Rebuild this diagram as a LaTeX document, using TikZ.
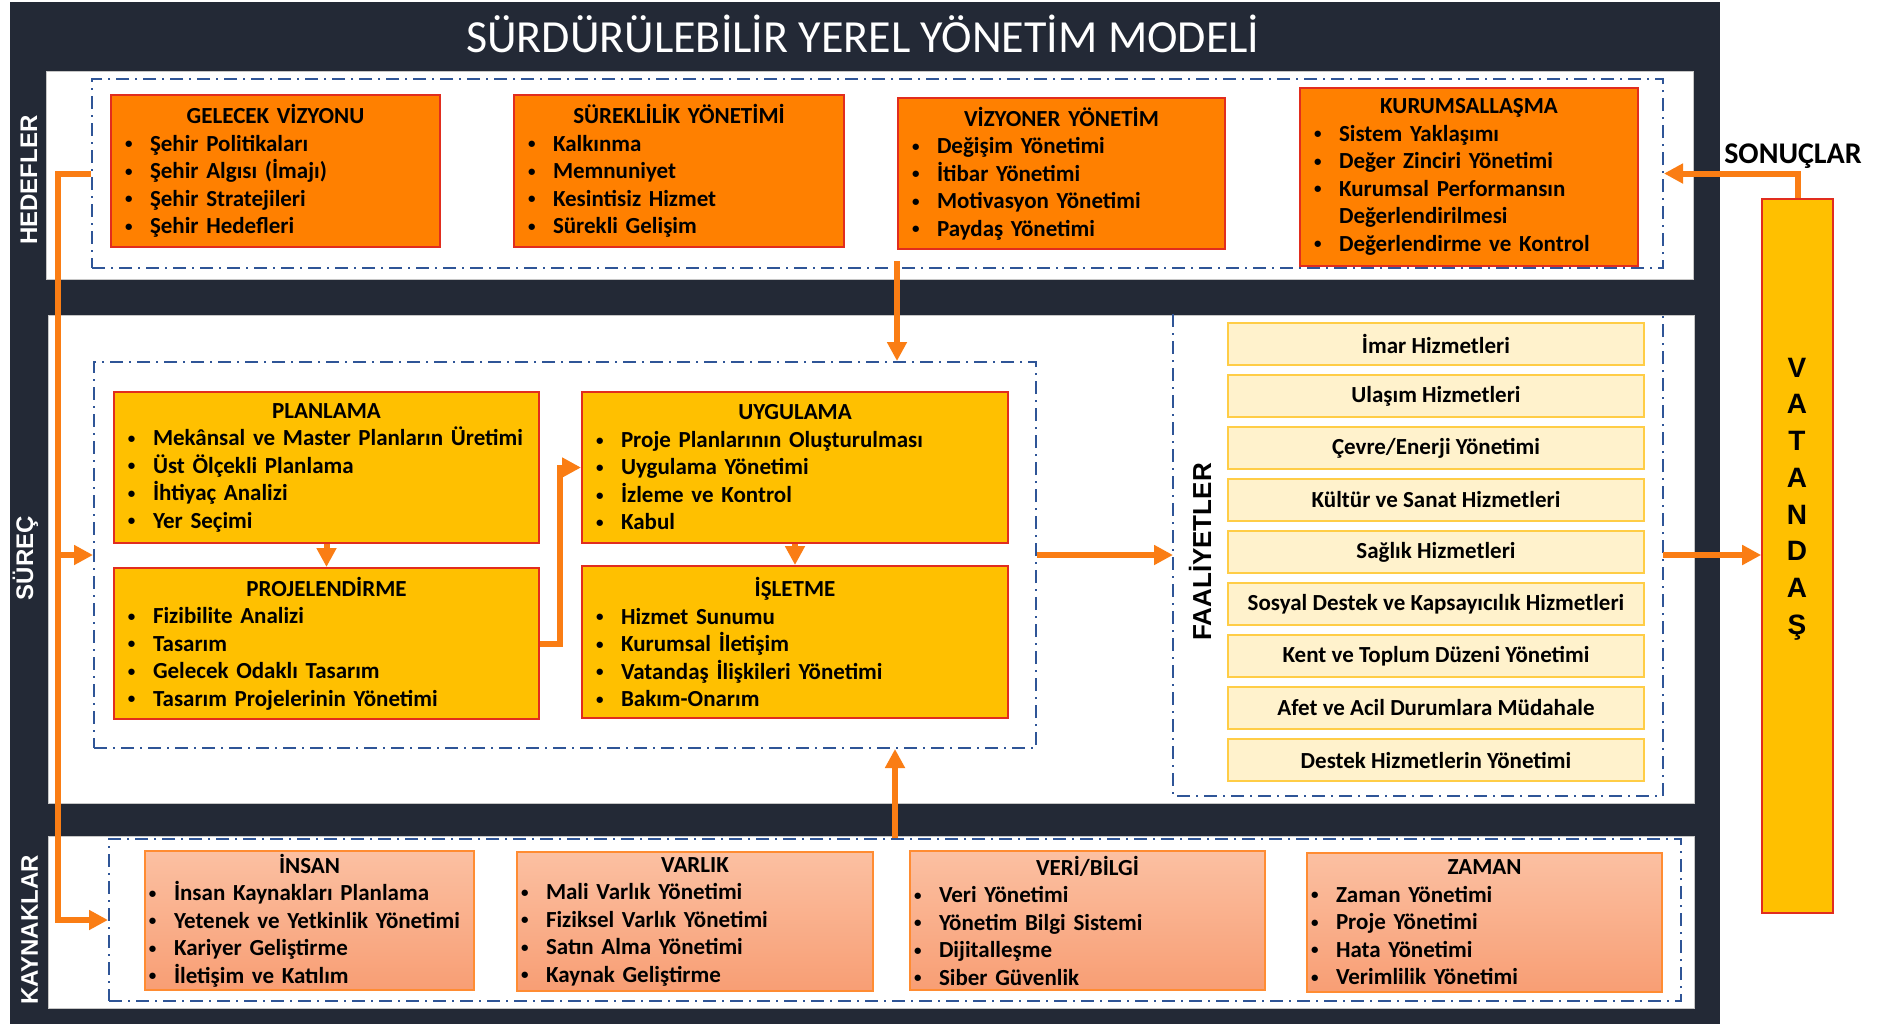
\documentclass[tikz,border=0pt]{standalone}
\usepackage{fontspec}
\setmainfont{Carlito}
\newfontfamily\sidefont{Liberation Sans}
\usepackage{xcolor}
\usetikzlibrary{arrows.meta, positioning}
\definecolor{panelnavy}{RGB}{35,41,54}
\definecolor{goalorange}{RGB}{255,128,0}
\definecolor{boxred}{RGB}{225,45,30}
\definecolor{procgold}{RGB}{255,192,0}
\definecolor{actfill}{RGB}{255,242,204}
\definecolor{actline}{RGB}{255,205,70}
\definecolor{restop}{RGB}{251,192,162}
\definecolor{resbot}{RGB}{248,158,116}
\definecolor{resline}{RGB}{255,140,50}
\definecolor{dashblue}{RGB}{47,85,151}
\definecolor{arrowor}{RGB}{250,125,20}
\newcommand{\itm}{\makebox[13.5pt][l]{\hspace{1pt}\raisebox{1.2pt}{\fontsize{7.5}{7.5}\selectfont\textbullet}}}
\newcommand{\ttl}[1]{\makebox[\linewidth]{#1}}

\begin{document}
\begin{tikzpicture}[x=0.5pt, y=-0.5pt,
    panel/.style={fill=white, draw=gray!45, line width=0.5pt},
    dashbox/.style={draw=dashblue, line width=1pt, dash pattern=on 6.5pt off 3pt on 1pt off 3pt, inner sep=0pt},
    boxtext/.style={align=left, inner ysep=0pt, font=\bfseries\fontsize{11.5}{13.75}\selectfont},
    goalbox/.style={boxtext, draw=boxred, fill=goalorange, line width=1pt, inner xsep=6pt},
    procbox/.style={boxtext, draw=boxred, fill=procgold, line width=1pt, inner xsep=6pt},
    resbox/.style={boxtext, draw=resline, top color=restop, bottom color=resbot, line width=1pt, inner xsep=1pt},
    actbox/.style={draw=actline, fill=actfill, line width=1pt, minimum width=208pt, minimum height=21pt, font=\bfseries\fontsize{11.5}{13.75}\selectfont},
    sidelbl/.style={font=\sidefont\bfseries\fontsize{12}{14}\selectfont, rotate=90, anchor=base},
    flow/.style={draw=arrowor, line width=3pt},
    flowarr/.style={flow, -{Triangle[length=9.5pt, width=9.5pt]}}
  ]
  \useasboundingbox (0,0) rectangle (1887,1024);
  \fill[white] (0,0) rectangle (1887,1024);

  % frame and the three bands
  \fill[panelnavy] (10,2) rectangle (1720,1024);
  \draw[panel] (46,71) rectangle (1693,279);
  \draw[panel] (48,315) rectangle (1694,803);
  \draw[panel] (48,836) rectangle (1694,1008);
  \node[white, anchor=base, font=\fontsize{23}{27}\selectfont] (title) at (863,52) {SÜRDÜRÜLEBİLİR YEREL YÖNETİM MODELİ};

  \node[sidelbl, white] (lblgoal) at (37,180) {HEDEFLER};
  \node[sidelbl, white] (lblproc) at (33,558) {SÜREÇ};
  \node[sidelbl, white] (lblres) at (38,930) {KAYNAKLAR};

  % dashed groups
  \node[dashbox, minimum width=785.5pt, minimum height=94.5pt] (goals) at (877.5,173.5) {};
  \node[dashbox, minimum width=471pt, minimum height=193pt] (proc) at (565,555) {};
  \node[dashbox, draw=none, minimum width=244pt, minimum height=240pt] (acts) at (1418,555) {};
  \draw[dashbox] (acts.north west) -- (acts.south west) -- (acts.south east) -- (acts.north east);
  \node[dashbox, minimum width=786pt, minimum height=81pt] (res) at (895,920) {};

  % goals
  \node[goalbox, text width=152.5pt, minimum height=76pt] (gv) at (275.5,171) {\ttl{GELECEK VİZYONU}\\ \itm Şehir Politikaları\\ \itm Şehir Algısı (İmajı)\\ \itm Şehir Stratejileri\\ \itm Şehir Hedefleri};
  \node[goalbox, text width=153pt, minimum height=76pt] (sy) at (679,171) {\ttl{SÜREKLİLİK YÖNETİMİ}\\ \itm Kalkınma\\ \itm Memnuniyet\\ \itm Kesintisiz Hizmet\\ \itm Sürekli Gelişim};
  \node[goalbox, text width=151.5pt, minimum height=75.5pt] (vy) at (1061.5,173.5) {\ttl{VİZYONER YÖNETİM}\\ \itm Değişim Yönetimi\\ \itm İtibar Yönetimi\\ \itm Motivasyon Yönetimi\\ \itm Paydaş Yönetimi};
  \node[goalbox, text width=157pt, minimum height=89pt] (ku) at (1469,177) {\ttl{KURUMSALLAŞMA}\\ \itm Sistem Yaklaşımı\\ \itm Değer Zinciri Yönetimi\\ \itm Kurumsal Performansın\\ \hspace*{13.5pt}Değerlendirilmesi\\ \itm Değerlendirme ve Kontrol};

  % process
  \node[procbox, text width=200.5pt, minimum height=75.5pt] (pl) at (326.5,467.5) {\ttl{PLANLAMA}\\ \itm Mekânsal ve Master Planların Üretimi\\ \itm Üst Ölçekli Planlama\\ \itm İhtiyaç Analizi\\ \itm Yer Seçimi};
  \node[procbox, text width=201pt, minimum height=75.5pt] (uy) at (795,467.5) {\ttl{UYGULAMA}\\ \itm Proje Planlarının Oluşturulması\\ \itm Uygulama Yönetimi\\ \itm İzleme ve Kontrol\\ \itm Kabul};
  \node[procbox, text width=200.5pt, minimum height=75.5pt] (pr) at (326.5,643.5) {\ttl{PROJELENDİRME}\\ \itm Fizibilite Analizi\\ \itm Tasarım\\ \itm Gelecek Odaklı Tasarım\\ \itm Tasarım Projelerinin Yönetimi};
  \node[procbox, text width=201pt, minimum height=76pt] (is) at (795,642) {\ttl{İŞLETME}\\ \itm Hizmet Sunumu\\ \itm Kurumsal İletişim\\ \itm Vatandaş İlişkileri Yönetimi\\ \itm Bakım-Onarım};

  % activities
  \node[sidelbl, black, font=\sidefont\bfseries\fontsize{13}{15}\selectfont] (lblacts) at (1211,552) {FAALİYETLER};
  \node[actbox] (imar) at (1436,344) {İmar Hizmetleri};
  \node[actbox] (ulasim) at (1436,396) {Ulaşım Hizmetleri};
  \node[actbox] (cevre) at (1436,448) {Çevre/Enerji Yönetimi};
  \node[actbox] (kultur) at (1436,500) {Kültür ve Sanat Hizmetleri};
  \node[actbox] (saglik) at (1436,552) {Sağlık Hizmetleri};
  \node[actbox] (sosyal) at (1436,604) {Sosyal Destek ve Kapsayıcılık Hizmetleri};
  \node[actbox] (kent) at (1436,656) {Kent ve Toplum Düzeni Yönetimi};
  \node[actbox] (afet) at (1436,708) {Afet ve Acil Durumlara Müdahale};
  \node[actbox] (destek) at (1436,760) {Destek Hizmetlerin Yönetimi};

  % resources
  \node[resbox, text width=162.5pt, minimum height=69.5pt] (insan) at (309.5,920.5) {\ttl{İNSAN}\\ \itm İnsan Kaynakları Planlama\\ \itm Yetenek ve Yetkinlik Yönetimi\\ \itm Kariyer Geliştirme\\ \itm İletişim ve Katılım};
  \node[resbox, text width=176pt, minimum height=69.5pt] (varlik) at (695,921.5) {\ttl{VARLIK}\\ \itm Mali Varlık Yönetimi\\ \itm Fiziksel Varlık Yönetimi\\ \itm Satın Alma Yönetimi\\ \itm Kaynak Geliştirme};
  \node[resbox, text width=175.5pt, minimum height=69.5pt] (veri) at (1087.5,920.5) {\ttl{VERİ/BİLGİ}\\ \itm Veri Yönetimi\\ \itm Yönetim Bilgi Sistemi\\ \itm Dijitalleşme\\ \itm Siber Güvenlik};
  \node[resbox, text width=175.5pt, minimum height=69.5pt] (zaman) at (1484.5,922.5) {\ttl{ZAMAN}\\ \itm Zaman Yönetimi\\ \itm Proje Yönetimi\\ \itm Hata Yönetimi\\ \itm Verimlilik Yönetimi};

  % citizen
  \node[draw=boxred, fill=procgold, line width=0.8pt, minimum width=35.5pt, minimum height=357pt] (cit) at (1797.5,556) {};
  \node[align=center, font=\sidefont\bfseries\fontsize{14}{18.35}\selectfont] (citlbl) at (1797,499) {V\\A\\T\\A\\N\\D\\A\\Ş};
  \node[anchor=base, font=\bfseries\fontsize{15}{18}\selectfont] (sonuc) at (1793,163) {SONUÇLAR};

  % flows
  \coordinate (spine) at (58,173.5);
  \draw[flowarr] (goals.west) -- (spine) |- (res.west);
  \draw[flowarr] (spine |- proc.west) -- (proc.west);
  \draw[flowarr] ([yshift=-5.5pt]vy.south west) -- (vy.south west |- proc.north);
  \draw[flowarr] (res.north) -- (res.north |- proc.south);
  \draw[flowarr] (pl.south) -- (pr.north);
  \draw[flowarr] (uy.south) -- (is.north);
  \draw[flowarr] (pr.east) -- ++(20,0) |- (uy.west);
  \draw[flowarr] (proc.east) -- (acts.west);
  \draw[flowarr] (acts.east) -- (acts.east -| cit.west);
  \draw[flowarr] (cit.north) |- (goals.east);
\end{tikzpicture}
\end{document}
